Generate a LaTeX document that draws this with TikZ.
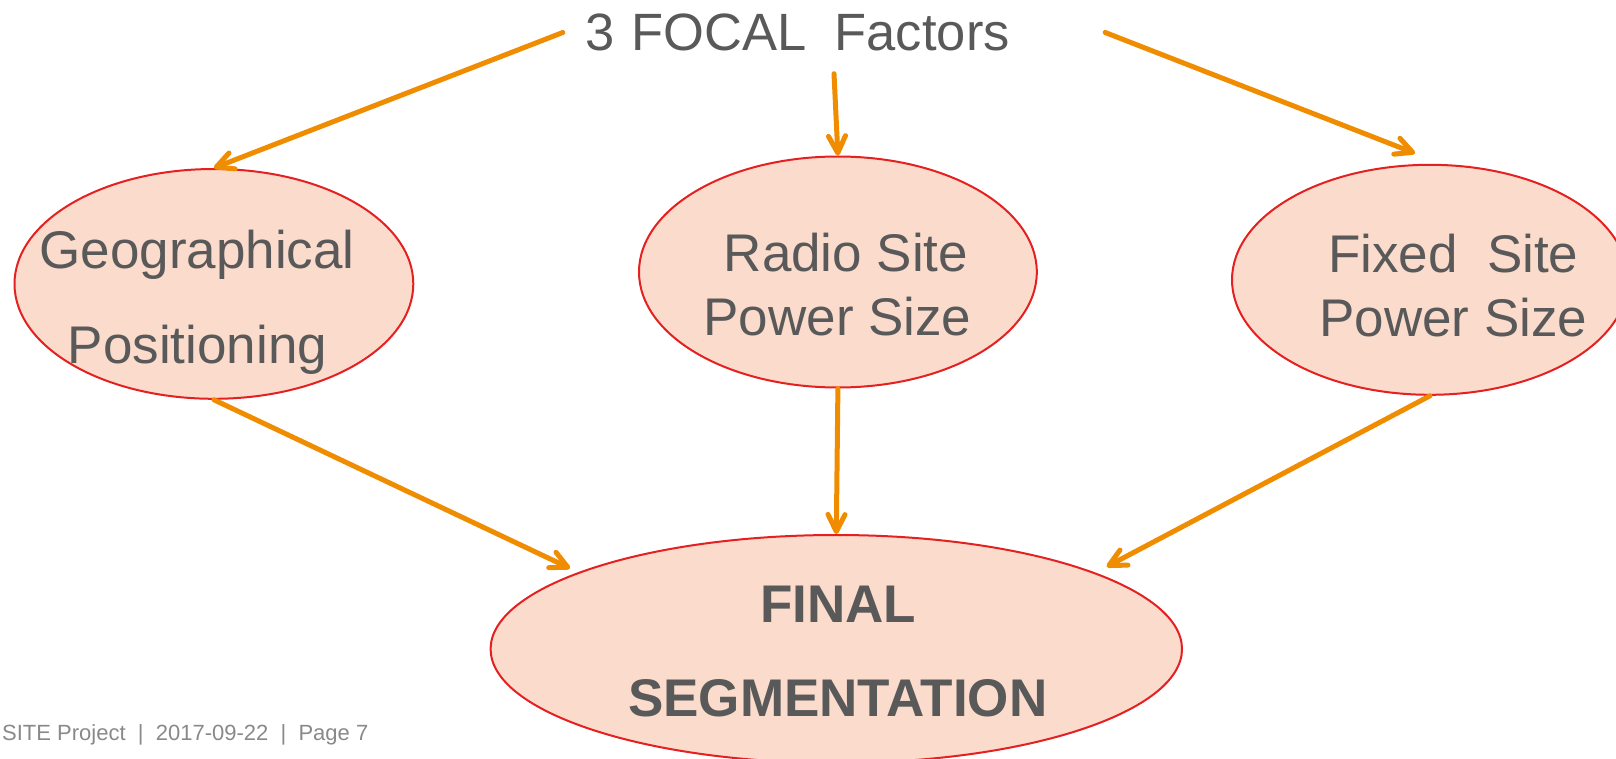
\documentclass[tikz,border=0pt]{standalone}
\usepackage{fontspec}
\setmainfont{Liberation Sans}
\usetikzlibrary{arrows.meta,shapes.geometric}
\definecolor{inkgray}{RGB}{89,89,89}
\definecolor{footgray}{RGB}{137,137,137}
\definecolor{flowamber}{RGB}{240,140,0}
\definecolor{rimred}{RGB}{228,32,32}
\definecolor{peach}{RGB}{250,219,204}
\tikzset{
  bubble/.style={ellipse, draw=rimred, line width=2pt, fill=peach, inner sep=0pt},
  txt/.style={anchor=base, text=inkgray, inner sep=0pt, font=\fontsize{53}{60}\selectfont},
  boldtxt/.style={anchor=base, text=inkgray, inner sep=0pt, font=\fontsize{53}{60}\selectfont\bfseries},
  flow/.style={draw=flowamber, line width=5pt, line cap=round, line join=round,
    -{Straight Barb[length=17pt, width=17pt, line cap=round, line join=round]}},
}
\begin{document}
\begin{tikzpicture}[x=1pt, y=-1pt]
\useasboundingbox (0,0) rectangle (1616,759);

% heading
\node (title) [text=inkgray, font=\fontsize{52.5}{60}\selectfont, text width=498pt,
  inner xsep=22pt, inner ysep=0pt, minimum height=82pt, align=left]
  at (834,32.5) {3 FOCAL\kern28pt Factors};

% the three factors
\node (geo)   [bubble, minimum width=398.8pt, minimum height=229.8pt] at (213.9,283.9) {};
\node (radio) [bubble, minimum width=397.8pt, minimum height=231pt]   at (837.9,272) {};
\node (fixed) [bubble, minimum width=396pt,   minimum height=230pt]   at (1430,279.8) {};

% result
\node (final) [bubble, minimum width=691.4pt, minimum height=228pt]   at (836.3,649) {};

% labels
\node (geoA)   [txt] at (197,268.3)    {Geographical};
\node (geoB)   [txt] at (197.5,363.3)  {Positioning};
\node (radioA) [txt] at (846,271.7)    {Radio Site};
\node (radioB) [txt] at (837.5,335)    {Power Size};
\node (fixedA) [txt] at (1453.3,272.7) {Fixed\ \ Site};
\node (fixedB) [txt] at (1453.3,336)   {Power Size};
\node (finA)   [boldtxt] at (838.3,622.3) {FINAL};
\node (finB)   [boldtxt] at (837.7,716.7) {SEGMENTATION};

% footer
\node (foot) [anchor=base west, text=footgray, inner sep=0pt,
  font=\fontsize{22}{26}\selectfont] at (2,740)
  {SITE Project\ \ |\ \ 2017-09-22\ \ |\ \ Page 7};

% arrow ends that stop short of the outlines
\coordinate (fixedtip) at (1415,153.3);
\coordinate (geotip)   at (570,568.3);
\coordinate (fixedend) at (1106.7,566.7);

% connectors
\draw[flow] (title.west)  -- (geo.north);
\draw[flow] (title.south) -- (radio.north);
\draw[flow] (title.east)  -- (fixedtip);
\draw[flow] (geo.south)   -- (geotip);
\draw[flow] (radio.south) -- (final.north);
\draw[flow] (fixed.south) -- (fixedend);
\end{tikzpicture}
\end{document}
